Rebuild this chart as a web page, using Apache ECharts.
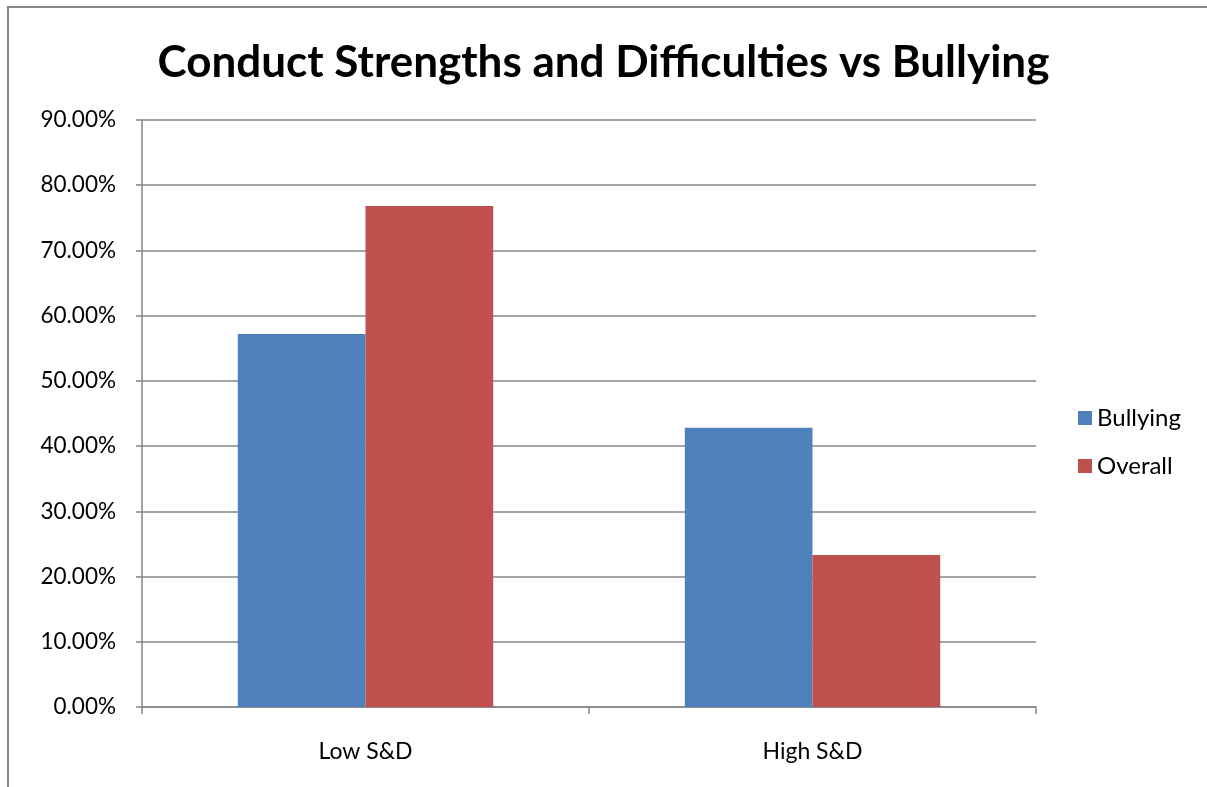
<!DOCTYPE html>
<html>
<head>
<meta charset="utf-8">
<script src="https://cdn.jsdelivr.net/npm/echarts@6/dist/echarts.min.js"></script>
<style>
  html, body { margin: 0; padding: 0; background: #fff; }
  #chart { width: 1207px; height: 787px; }
</style>
</head>
<body>
<div id="chart"></div>
<script>
const categories = ["Low S&D", "High S&D"];
const bullying = [57.2, 42.8];
const overall = [76.8, 23.3];
const yTicks = { min: 0, max: 90, interval: 10 };

const FONT = "Lato";
const GRAY = "#868686";

const chart = echarts.init(document.getElementById("chart"), null, { renderer: "canvas" });

chart.setOption({
  backgroundColor: "#ffffff",
  animation: false,
  title: {
    text: "Conduct Strengths and Difficulties vs Bullying",
    left: "center",
    top: 36,
    textStyle: {
      fontFamily: FONT,
      fontSize: 44,
      fontWeight: "bold",
      color: "#000"
    }
  },
  legend: {
    orient: "vertical",
    left: 1078,
    top: 406,
    padding: 0,
    itemWidth: 14,
    itemHeight: 14,
    itemGap: 24,
    icon: "rect",
    textStyle: { fontFamily: FONT, fontSize: 24, color: "#000" },
    data: ["Bullying", "Overall"]
  },
  grid: {
    left: 142,
    right: 171,
    top: 120,
    bottom: 80,
    containLabel: false
  },
  xAxis: {
    type: "category",
    data: categories,
    axisLine: { show: true, lineStyle: { color: GRAY, width: 1.5 } },
    axisTick: { show: true, alignWithLabel: false, length: 7, lineStyle: { color: GRAY, width: 1.5 } },
    axisLabel: { fontFamily: FONT, fontSize: 23, color: "#000", margin: 33 },
    splitLine: { show: false }
  },
  yAxis: {
    type: "value",
    min: yTicks.min,
    max: yTicks.max,
    interval: yTicks.interval,
    axisLine: { show: true, lineStyle: { color: GRAY, width: 1.5 } },
    axisTick: { show: true, length: 6, lineStyle: { color: GRAY, width: 1.5 } },
    axisLabel: {
      fontFamily: FONT,
      fontSize: 22.5,
      color: "#000",
      margin: 26,
      formatter: (v) => v.toFixed(2) + "%"
    },
    splitLine: { show: true, lineStyle: { color: GRAY, width: 1.5 } }
  },
  series: [
    {
      name: "Bullying",
      type: "bar",
      data: bullying,
      barGap: "0%",
      barCategoryGap: "42.86%",
      itemStyle: { color: "#4F81BD" }
    },
    {
      name: "Overall",
      type: "bar",
      data: overall,
      barGap: "0%",
      barCategoryGap: "42.86%",
      itemStyle: { color: "#C0504D" }
    }
  ],
  graphic: [
    {
      type: "rect",
      silent: true,
      z: -1,
      shape: { x: 8, y: 7, width: 1400, height: 1000 },
      style: { fill: null, stroke: GRAY, lineWidth: 2 }
    }
  ]
});
</script>
</body>
</html>
